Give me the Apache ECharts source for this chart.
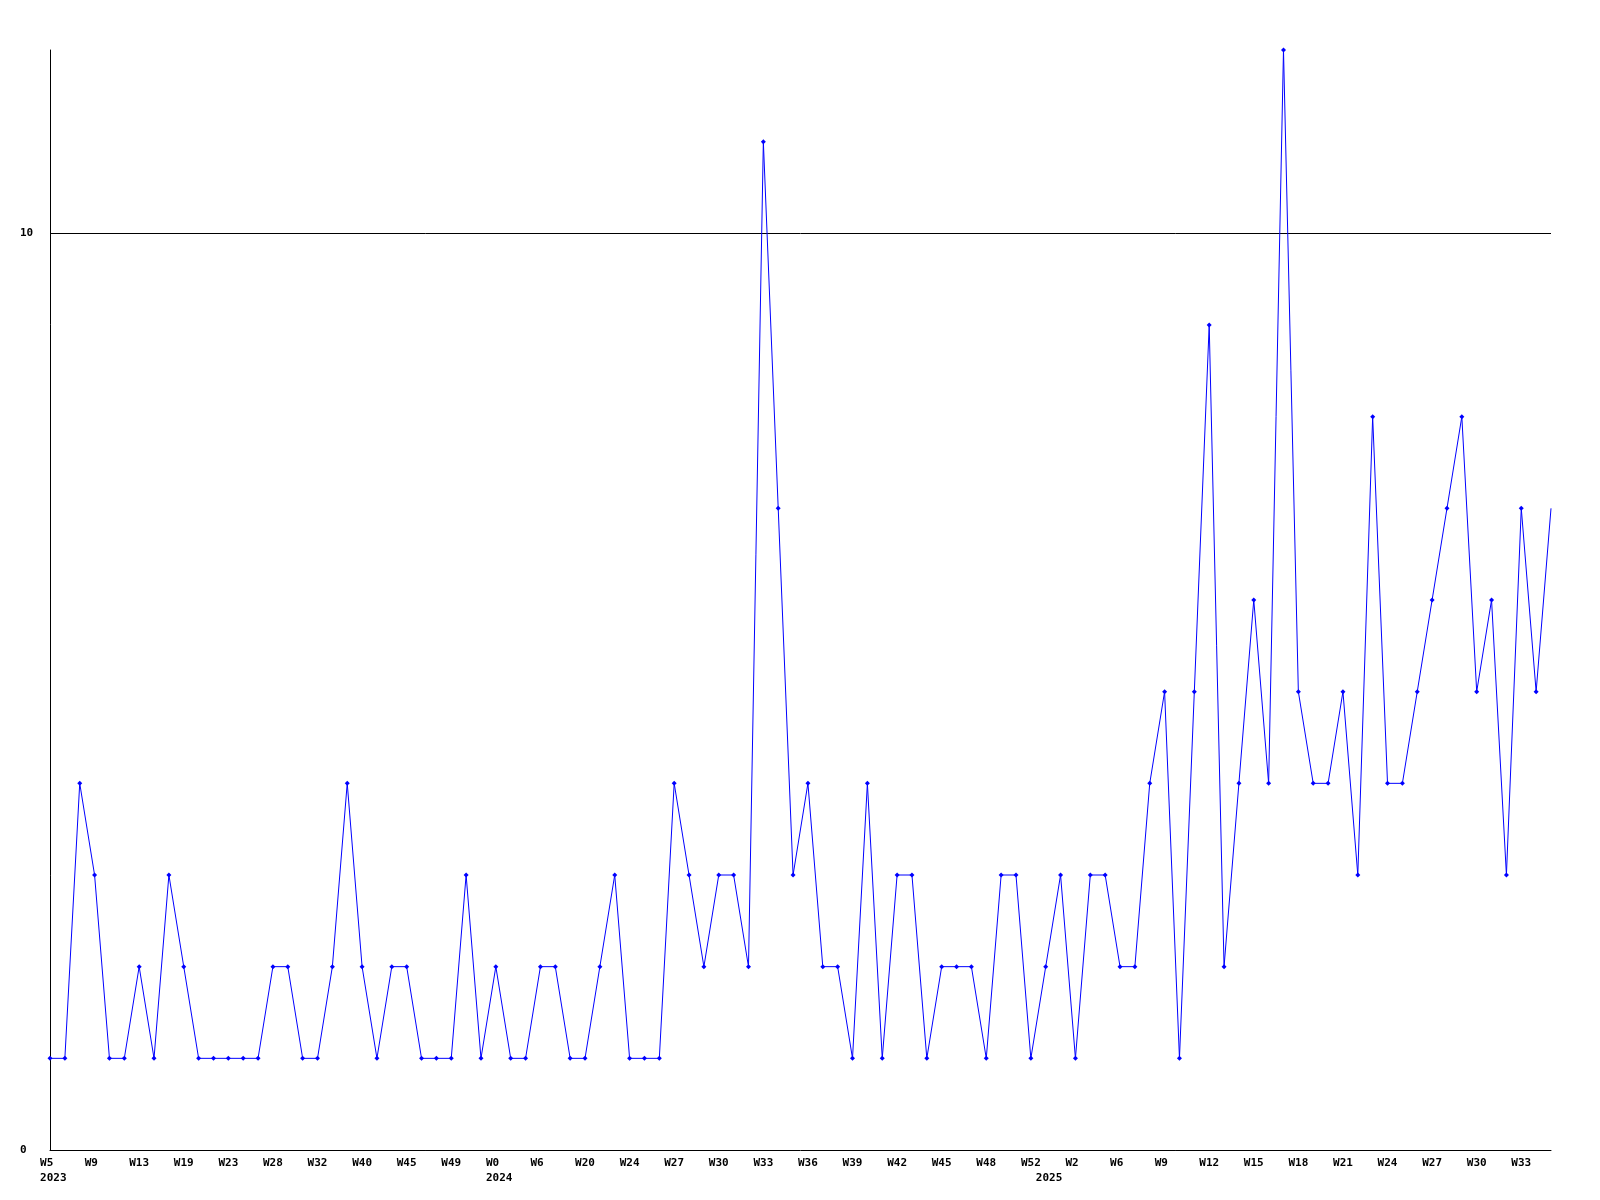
<!DOCTYPE html>
<html>
<head>
<meta charset="utf-8">
<script src="https://cdn.jsdelivr.net/npm/echarts@6/dist/echarts.min.js"></script>
<style>
  html, body { margin: 0; padding: 0; background: #ffffff; }
  #chart { width: 1600px; height: 1200px; }
</style>
</head>
<body>
<div id="chart"></div>
<script>
// Weekly values, one per point (102 points)
const values = [
  1, 1, 4, 3, 1, 1, 2, 1, 3, 2,
  1, 1, 1, 1, 1, 2, 2, 1, 1, 2,
  4, 2, 1, 2, 2, 1, 1, 1, 3, 1,
  2, 1, 1, 2, 2, 1, 1, 2, 3, 1,
  1, 1, 4, 3, 2, 3, 3, 2, 11, 7,
  3, 4, 2, 2, 1, 4, 1, 3, 3, 1,
  2, 2, 2, 1, 3, 3, 1, 2, 3, 1,
  3, 3, 2, 2, 4, 5, 1, 5, 9, 2,
  4, 6, 4, 12, 5, 4, 4, 5, 3, 8,
  4, 4, 5, 6, 7, 8, 5, 6, 3, 7,
  5, 7
];

// Tick labels shown on every third point
const tickLabels = [
  "W5", "W9", "W13", "W19", "W23", "W28", "W32", "W40", "W45", "W49",
  "W0", "W6", "W20", "W24", "W27", "W30", "W33", "W36", "W39", "W42",
  "W45", "W48", "W52", "W2", "W6", "W9", "W12", "W15", "W18", "W21",
  "W24", "W27", "W30", "W33"
];
const tickStep = 3;

// Year labels at the first point of each year
const yearStarts = [0, 30, 67];
const yearNames = ["2023", "2024", "2025"];

const categories = values.map((_, i) => String(i));

const FONT = "'DejaVu Sans Mono', 'Liberation Mono', monospace";

function padLabel(s) {
  return s.length < 3 ? s + " " : s;
}

const chart = echarts.init(document.getElementById('chart'), null, { renderer: 'canvas' });
chart.setOption({
  backgroundColor: '#ffffff',
  animation: false,
  grid: { left: 50, right: 49, top: 50, bottom: 50, containLabel: false },
  xAxis: {
    type: 'category',
    data: categories,
    boundaryGap: false,
    axisLine: { show: true, lineStyle: { color: '#000000', width: 1 } },
    axisTick: { show: false },
    splitLine: { show: false },
    axisLabel: {
      show: true,
      interval: (i) => i % tickStep === 0 || yearStarts.indexOf(i) >= 0,
      hideOverlap: false,
      color: '#000000',
      fontFamily: FONT,
      fontWeight: 'bold',
      fontSize: 11,
      lineHeight: 15,
      margin: 6,
      formatter: (v, idx) => {
        const i = Number(v);
        let s = (i % tickStep === 0 && tickLabels[i / tickStep] !== undefined) ? padLabel(tickLabels[i / tickStep]) : '';
        const y = yearStarts.indexOf(i);
        if (y >= 0) s += '\n ' + yearNames[y];
        return s;
      }
    }
  },
  yAxis: {
    type: 'value',
    min: 0,
    max: 12,
    interval: 10,
    axisLine: { show: true, lineStyle: { color: '#000000', width: 1 } },
    axisTick: { show: false },
    splitLine: { show: true, showMinLine: false, showMaxLine: false, lineStyle: { color: '#000000', width: 1 } },
    axisLabel: {
      show: true,
      showMaxLabel: false,
      align: 'left',
      margin: 30,
      color: '#000000',
      fontFamily: FONT,
      fontWeight: 'bold',
      fontSize: 11,
      formatter: (v) => (v === 12 ? '' : String(v))
    }
  },
  series: [{
    type: 'line',
    data: values.map((v, i) => i === values.length - 1 ? { value: v, symbol: 'none' } : v),
    symbol: 'diamond',
    symbolSize: 5,
    showAllSymbol: true,
    lineStyle: { color: '#0000ff', width: 1 },
    itemStyle: { color: '#0000ff' },
    emphasis: { disabled: true }
  }]
});
</script>
</body>
</html>
